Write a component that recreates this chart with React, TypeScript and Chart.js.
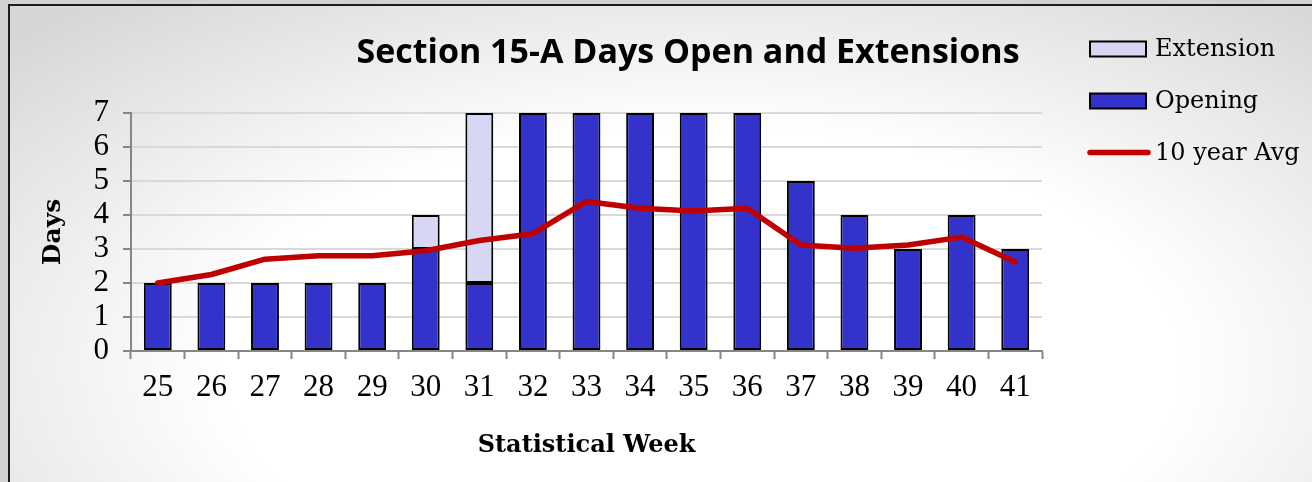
import React, { useEffect, useRef } from 'react';
import { Chart, registerables } from 'chart.js';

Chart.register(...registerables);

const titleText = 'Section 15-A Days Open and Extensions';
const xAxisTitle = 'Statistical Week';
const yAxisTitle = 'Days';

const weeks = ['25', '26', '27', '28', '29', '30', '31', '32', '33', '34', '35', '36', '37', '38', '39', '40', '41'];
const opening = [2, 2, 2, 2, 2, 3, 2, 7, 7, 7, 7, 7, 5, 4, 3, 4, 3];
const extension = [null, null, null, null, null, 1, 5, null, null, null, null, null, null, null, null, null, null];
const tenYearAvg = [2.0, 2.25, 2.7, 2.8, 2.8, 2.95, 3.25, 3.45, 4.4, 4.2, 4.12, 4.2, 3.12, 3.02, 3.12, 3.35, 2.62];

const yMin = 0;
const yMax = 7;
const yStep = 1;

const openingColor = '#3333cc';
const extensionColor = '#d7d7f3';
const avgColor = '#c00000';

const overlayPlugin = {
  id: 'overlay',
  afterDraw(chart: any) {
    const ctx = chart.ctx as CanvasRenderingContext2D;
    ctx.save();
    // Title
    ctx.fillStyle = '#000';
    ctx.font = 'bold 34px "Open Sans"';
    ctx.textAlign = 'center';
    ctx.textBaseline = 'alphabetic';
    ctx.fillText(titleText, 678, 57, 672);

    // Legend
    const ds = chart.data.datasets;
    const ext = ds[1];
    const open = ds[0];
    const avg = ds[2];
    const items = [
      { type: 'box', label: ext.label, fill: ext.backgroundColor, y: 43 },
      { type: 'box', label: open.label, fill: open.backgroundColor, y: 95 },
      { type: 'line', label: avg.label, fill: avg.borderColor, y: 146.5 },
    ];
    ctx.font = '24px "DejaVu Serif"';
    ctx.textAlign = 'left';
    ctx.textBaseline = 'middle';
    for (const it of items) {
      if (it.type === 'box') {
        ctx.fillStyle = it.fill;
        ctx.fillRect(1080, it.y - 7.5, 56, 15);
        ctx.strokeStyle = '#000';
        ctx.lineWidth = 2;
        ctx.strokeRect(1080, it.y - 7.5, 56, 15);
      } else {
        ctx.strokeStyle = it.fill;
        ctx.lineWidth = 5.5;
        ctx.lineCap = 'round';
        ctx.beginPath();
        ctx.moveTo(1080, it.y);
        ctx.lineTo(1138, it.y);
        ctx.stroke();
      }
      ctx.fillStyle = '#000';
      ctx.fillText(it.label, 1145, it.y + 1);
    }
    ctx.restore();
  },
};

export default function App() {
  const canvasRef = useRef<HTMLCanvasElement | null>(null);

  useEffect(() => {
    const canvas = canvasRef.current;
    if (!canvas) return;
    const chart = new Chart(canvas, {
      type: 'bar',
      data: {
        labels: weeks,
        datasets: [
          {
            type: 'bar',
            label: 'Opening',
            data: opening,
            backgroundColor: openingColor,
            borderColor: '#000',
            borderWidth: 2,
            borderSkipped: false,
            barPercentage: 0.52,
            categoryPercentage: 1,
            stack: 's',
            order: 1,
          },
          {
            type: 'bar',
            label: 'Extension',
            data: extension as any,
            backgroundColor: extensionColor,
            borderColor: '#000',
            borderWidth: 2,
            borderSkipped: false,
            barPercentage: 0.52,
            categoryPercentage: 1,
            stack: 's',
            order: 1,
          },
          {
            type: 'line',
            label: '10 year Avg',
            data: tenYearAvg,
            borderColor: avgColor,
            backgroundColor: avgColor,
            borderWidth: 5.5,
            pointRadius: 0,
            tension: 0,
            borderCapStyle: 'round',
            borderJoinStyle: 'round',
            order: -1,
          } as any,
        ],
      },
      options: {
        responsive: false,
        animation: false,
        devicePixelRatio: 1,
        layout: { padding: { top: 107, right: 270, bottom: 18, left: 24 } },
        plugins: {
          legend: { display: false },
          title: { display: false },
          tooltip: { enabled: false },
        },
        scales: {
          x: {
            stacked: true,
            offset: true,
            grid: {
              offset: true,
              drawOnChartArea: false,
              drawTicks: true,
              tickLength: 8,
              tickColor: '#868686',
              tickWidth: 2,
            },
            border: { display: true, color: '#868686', width: 2 },
            ticks: {
              color: '#000',
              font: { family: '"Liberation Serif"', size: 31 },
              padding: 10,
              maxRotation: 0,
              autoSkip: false,
            },
            title: {
              display: true,
              text: xAxisTitle,
              color: '#000',
              font: { family: '"DejaVu Serif"', size: 24, weight: 'bold' },
            },
            afterFit(scale: any) {
              scale.height = 113;
            },
          },
          y: {
            stacked: true,
            min: yMin,
            max: yMax,
            ticks: {
              stepSize: yStep,
              autoSkip: false,
              color: '#000',
              font: { family: '"Liberation Serif"', size: 31 },
              padding: 14,
            },
            grid: {
              color: '#d9d9d9',
              lineWidth: 2,
              tickColor: '#868686',
              tickLength: 8,
              tickWidth: 2,
            },
            border: { display: true, color: '#868686', width: 2 },
            title: {
              display: true,
              text: yAxisTitle,
              color: '#000',
              font: { family: '"DejaVu Serif"', size: 25, weight: 'bold' },
            },
            afterFit(scale: any) {
              scale.width = 97;
            },
          },
        },
      },
      plugins: [overlayPlugin],
    } as any);
    return () => chart.destroy();
  }, []);

  return (
    <div
      style={{
        position: 'fixed',
        left: 0,
        top: 0,
        width: 1312,
        height: 482,
        overflow: 'hidden',
        background: '#d2d2d2',
      }}
    >
      <div
        style={{
          position: 'absolute',
          left: 8,
          top: 4,
          width: 1330,
          height: 500,
          border: '2px solid #1c1c1c',
          background:
            'radial-gradient(ellipse 72% 95% at 52% 72%, #ffffff 50%, #d6d6d6 100%)',
        }}
      >
        <canvas ref={canvasRef} width={1302} height={476} style={{ display: 'block' }} />
      </div>
    </div>
  );
}
